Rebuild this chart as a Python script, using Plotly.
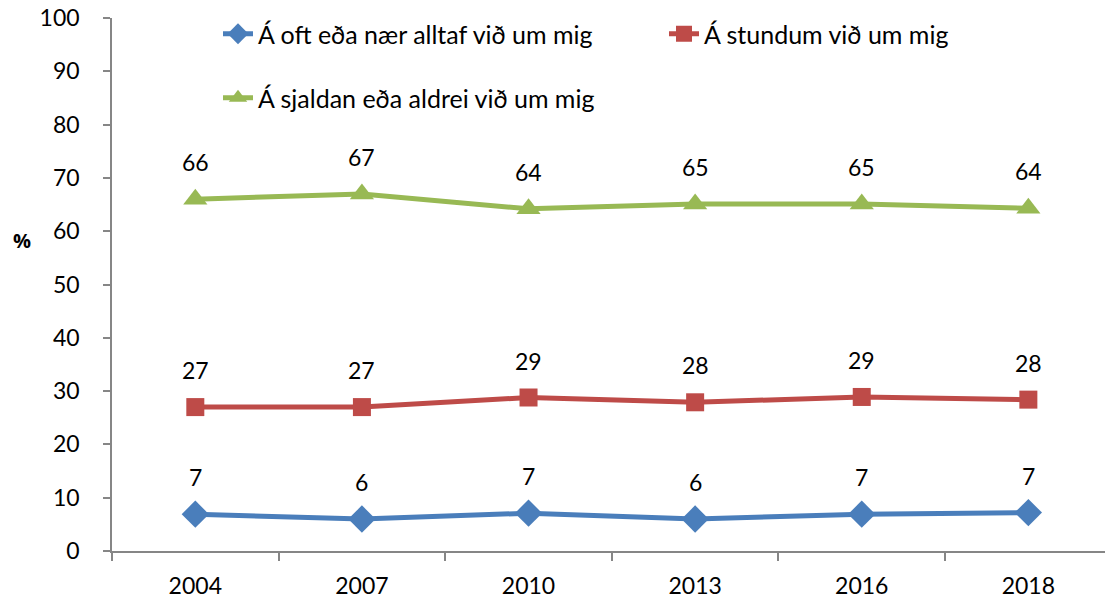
import plotly.graph_objects as go

years = ["2004", "2007", "2010", "2013", "2016", "2018"]
often = [6.9, 6.0, 7.1, 6.0, 6.9, 7.2]
sometimes = [27.0, 27.0, 28.8, 27.9, 28.9, 28.4]
rarely = [66.0, 67.0, 64.2, 65.1, 65.1, 64.3]

series_names = [
    "Á oft eða nær alltaf við um mig",
    "Á stundum við um mig",
    "Á sjaldan eða aldrei við um mig",
]
y_ticks = list(range(0, 101, 10))

FONT = "Lato"
FS = 23
LEGEND_FS = 25
AXIS_GREY = "#868686"

styles = [
    dict(color="#4a7ebb", symbol="diamond", size=21, legend="legend"),
    dict(color="#be4b48", symbol="square", size=18, legend="legend"),
    dict(color="#98b954", symbol="triangle-up", size=21, legend="legend2"),
]

# plot area in pixels
plot_left, plot_right, plot_top, plot_bottom = 112, 1105, 18, 551
pw, ph = plot_right - plot_left, plot_bottom - plot_top

fig = go.Figure()
annotations = []
for name, values, st in zip(series_names, [often, sometimes, rarely], styles):
    fig.add_trace(go.Scatter(
        x=years, y=values, name=name, mode="lines+markers",
        line=dict(color=st["color"], width=5),
        marker=dict(symbol=st["symbol"], size=st["size"], color=st["color"],
                    line=dict(width=0)),
        legend=st["legend"],
    ))
    # value labels above each point (category index positions)
    for i, v in enumerate(values):
        annotations.append(dict(
            x=i, y=v, xref="x", yref="y", text=f"{v:.0f}", showarrow=False,
            yshift=37, font=dict(family=FONT, size=FS, color="#000000"),
        ))

annotations.append(dict(
    x=(22 - plot_left) / pw, y=(plot_bottom - 240) / ph,
    xref="paper", yref="paper", text="<b>%</b>", showarrow=False,
    xanchor="center", yanchor="middle",
    font=dict(family="Open Sans", size=20, color="#000000"),
))

fig.update_layout(
    width=1105, height=601,
    margin=dict(l=plot_left, r=0, t=plot_top, b=601 - plot_bottom,
                autoexpand=False),
    paper_bgcolor="white", plot_bgcolor="white",
    font=dict(family=FONT, size=FS, color="#000000"),
    annotations=annotations,
    legend=dict(
        orientation="h", x=(218 - plot_left) / pw, y=(plot_bottom - 34) / ph,
        xanchor="left", yanchor="middle", entrywidth=401, entrywidthmode="pixels",
        font=dict(family=FONT, size=LEGEND_FS), bgcolor="rgba(0,0,0,0)",
    ),
    legend2=dict(
        orientation="h", x=(218 - plot_left) / pw, y=(plot_bottom - 98) / ph,
        xanchor="left", yanchor="middle",
        font=dict(family=FONT, size=LEGEND_FS), bgcolor="rgba(0,0,0,0)",
    ),
    xaxis=dict(
        type="category", range=[-0.5, 5.46], showgrid=False,
        showline=True, linecolor=AXIS_GREY, linewidth=1.5,
        ticks="outside", tickson="boundaries", ticklen=8, tickcolor=AXIS_GREY,
        tickwidth=1.5, tickfont=dict(family=FONT, size=FS), zeroline=False,
        ticklabelstandoff=14,
    ),
    yaxis=dict(
        range=[0, 100], tickvals=y_ticks, showgrid=False,
        showline=True, linecolor=AXIS_GREY, linewidth=1.5,
        ticks="outside", ticklen=7, tickcolor=AXIS_GREY, tickwidth=1.5,
        tickfont=dict(family=FONT, size=FS), zeroline=False,
        ticklabelstandoff=19,
    ),
)

fig.write_html("out.html")
